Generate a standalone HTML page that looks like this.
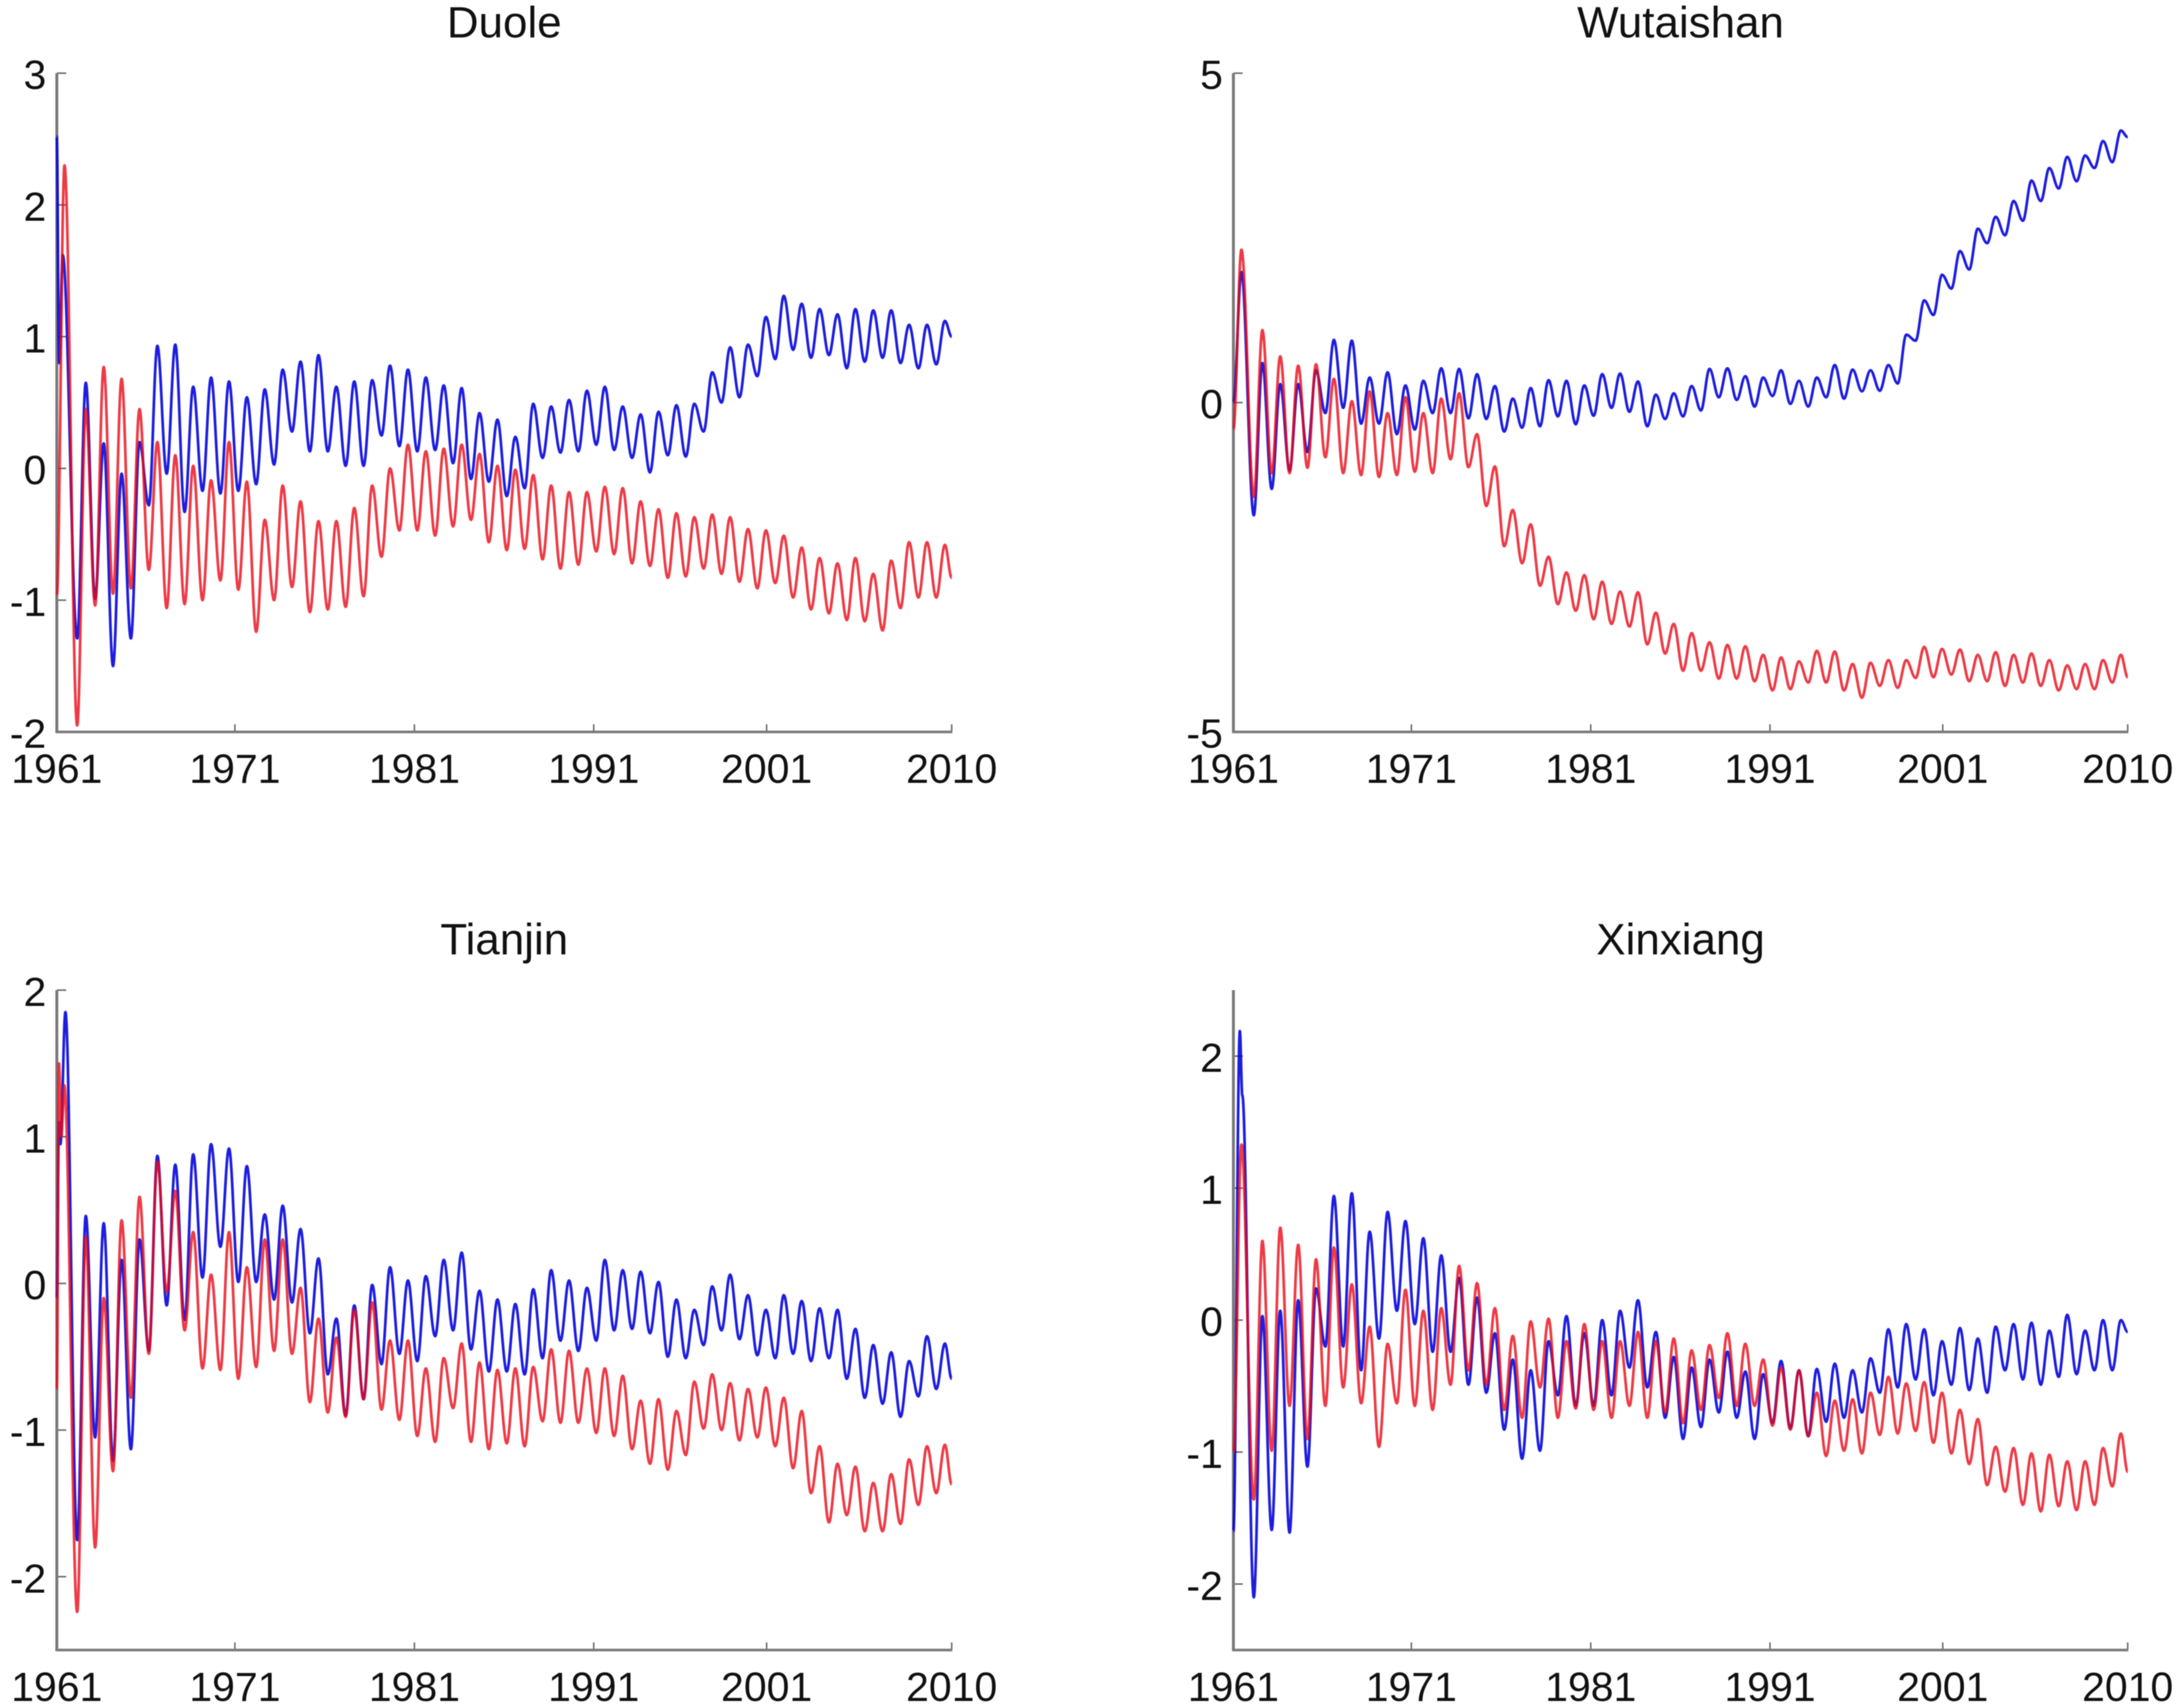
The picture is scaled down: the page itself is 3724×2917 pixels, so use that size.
<!DOCTYPE html>
<html lang="en">
<head>
<meta charset="utf-8">
<title>Duole, Wutaishan, Tianjin and Xinxiang series 1961-2010</title>
<style>
  html, body { margin: 0; padding: 0; background: #fff; }
  svg { display: block; filter: blur(0.9px); }
  text { font-family: "Liberation Sans", sans-serif; fill: #111; }
  .tick-label { font-size: 70px; }
  .panel-title { font-size: 75px; text-anchor: middle; }
</style>
</head>
<body>
<svg id="figure" xmlns="http://www.w3.org/2000/svg" width="3724" height="2917" viewBox="0 0 3724 2917"></svg>
<script>
/* Shared x axis: years elapsed since the start of 1961 */
const xTickLabels = ["1961", "1971", "1981", "1991", "2001", "2010"];
const xTickTimes = [0, 9.95, 19.98, 30, 39.66, 50];
const yearsShown = 50;
const troughPhase = 1.14;
const peakPhase = 1.62;

/* Duole */
const duoleYTicks = [3, 2, 1, 0, -1, -2];
const duoleBlueLeadTimes = [0, 0.13, 0.33];
const duoleBlueLeadValues = [2.52, 0.8, 1.62];
const duoleBluePeaks = [0.65,0.19,-0.04,0.2,0.93,0.94,0.62,0.69,0.66,0.54,0.6,0.75,0.81,0.86,0.62,0.66,0.67,0.78,0.75,0.69,0.63,0.61,0.42,0.37,0.24,0.49,0.47,0.52,0.59,0.62,0.47,0.41,0.43,0.48,0.49,0.73,0.92,0.94,1.15,1.31,1.25,1.21,1.17,1.21,1.2,1.2,1.09,1.09,1.12];
const duoleBlueTroughs = [-1.29,-0.99,-1.5,-1.29,-0.28,-0.04,-0.33,-0.17,-0.19,-0.17,-0.12,0.03,0.28,0.13,0.13,0.02,0.02,0.25,0.17,0.13,0.14,0.04,-0.08,-0.1,-0.21,-0.15,0.08,0.12,0.13,0.18,0.14,0.08,-0.03,0.1,0.09,0.28,0.5,0.54,0.7,0.83,0.9,0.84,0.86,0.76,0.81,0.84,0.8,0.76,0.79];
const duoleBlueEnd = 1.0;
const duoleRedLeadTimes = [0, 0.43];
const duoleRedLeadValues = [-0.96, 2.3];
const duoleRedPeaks = [0.45,0.77,0.68,0.45,0.2,0.1,0.02,-0.09,0.2,-0.1,-0.39,-0.13,-0.25,-0.4,-0.4,-0.3,-0.13,0,0.18,0.13,0.15,0.18,0.11,0.02,-0.01,-0.05,-0.13,-0.18,-0.18,-0.14,-0.15,-0.25,-0.31,-0.34,-0.37,-0.35,-0.37,-0.46,-0.47,-0.51,-0.6,-0.68,-0.72,-0.68,-0.8,-0.7,-0.56,-0.56,-0.58];
const duoleRedTroughs = [-1.95,-1.04,-0.95,-0.91,-0.77,-1.06,-1.03,-1.0,-0.85,-0.92,-1.24,-1.0,-0.9,-1.09,-1.07,-1.05,-0.97,-0.67,-0.47,-0.47,-0.51,-0.44,-0.39,-0.56,-0.62,-0.61,-0.69,-0.76,-0.73,-0.63,-0.65,-0.72,-0.74,-0.83,-0.82,-0.76,-0.8,-0.86,-0.91,-0.87,-0.98,-1.07,-1.1,-1.15,-1.16,-1.23,-1.06,-0.98,-0.98];
const duoleRedEnd = -0.83;

/* Wutaishan */
const wutaiYTicks = [5, 0, -5];
const wutaiBlueLeadTimes = [0, 0.45];
const wutaiBlueLeadValues = [0, 1.98];
const wutaiBluePeaks = [0.6,0.28,0.28,0.49,0.95,0.94,0.38,0.46,0.26,0.33,0.52,0.51,0.43,0.25,0.06,0.22,0.34,0.33,0.26,0.43,0.44,0.32,0.12,0.14,0.25,0.51,0.52,0.4,0.38,0.49,0.33,0.38,0.57,0.5,0.49,0.57,1.03,1.55,1.94,2.3,2.64,2.82,3.06,3.37,3.56,3.73,3.75,3.97,4.13];
const wutaiBlueTroughs = [-1.71,-1.31,-1.03,-0.75,-0.16,-0.08,-0.32,-0.32,-0.48,-0.41,-0.16,-0.16,-0.24,-0.25,-0.44,-0.38,-0.36,-0.21,-0.33,-0.2,-0.08,-0.14,-0.36,-0.25,-0.21,-0.12,0.08,0.04,-0.06,0.1,-0.02,-0.06,0.08,0.06,0.17,0.18,0.29,0.94,1.33,1.73,2.02,2.42,2.54,2.76,3.06,3.25,3.36,3.56,3.65];
const wutaiBlueEnd = 4.03;
const wutaiRedLeadTimes = [0, 0.45];
const wutaiRedLeadValues = [-0.4, 2.32];
const wutaiRedPeaks = [1.1,0.7,0.56,0.58,0.36,0.02,0.17,-0.16,0.08,-0.16,0.06,0.14,-0.48,-0.97,-1.63,-1.85,-2.34,-2.58,-2.62,-2.72,-2.87,-2.88,-3.19,-3.36,-3.5,-3.64,-3.68,-3.7,-3.83,-3.87,-3.93,-3.77,-3.78,-3.97,-3.95,-3.91,-3.91,-3.71,-3.74,-3.75,-3.83,-3.79,-3.83,-3.81,-3.91,-3.99,-3.97,-3.91,-3.83];
const wutaiRedTroughs = [-1.43,-1.07,-1.07,-0.99,-0.83,-1.07,-1.1,-1.13,-1.1,-1.05,-1.07,-0.86,-0.98,-1.57,-2.18,-2.44,-2.78,-3.06,-3.16,-3.29,-3.36,-3.4,-3.67,-3.81,-4.07,-4.07,-4.19,-4.19,-4.23,-4.37,-4.35,-4.25,-4.25,-4.37,-4.48,-4.3,-4.33,-4.18,-4.17,-4.13,-4.23,-4.23,-4.3,-4.25,-4.3,-4.37,-4.35,-4.35,-4.25];
const wutaiRedEnd = -4.17;

/* Tianjin */
const tianjinYTicks = [2, 1, 0, -1, -2];
const tianjinBlueLeadTimes = [0, 0.12, 0.2, 0.48];
const tianjinBlueLeadValues = [-0.1, 1.1, 0.95, 1.85];
const tianjinBluePeaks = [0.46,0.41,0.16,0.3,0.87,0.81,0.88,0.95,0.92,0.8,0.47,0.53,0.37,0.17,-0.24,-0.15,-0.01,0.11,0.02,0.05,0.16,0.21,-0.05,-0.11,-0.14,-0.04,0.09,0.02,-0.03,0.16,0.09,0.08,0.01,-0.11,-0.18,-0.02,0.06,-0.08,-0.18,-0.08,-0.12,-0.17,-0.18,-0.31,-0.42,-0.47,-0.53,-0.36,-0.41];
const tianjinBlueTroughs = [-1.75,-1.05,-1.21,-1.13,-0.46,-0.15,-0.25,0.04,0.25,0.01,0.01,-0.11,-0.13,-0.34,-0.62,-0.9,-0.79,-0.55,-0.48,-0.53,-0.36,-0.32,-0.45,-0.6,-0.6,-0.62,-0.51,-0.39,-0.46,-0.39,-0.32,-0.31,-0.34,-0.5,-0.51,-0.42,-0.32,-0.38,-0.49,-0.51,-0.48,-0.53,-0.51,-0.65,-0.78,-0.82,-0.91,-0.77,-0.72];
const tianjinBlueEnd = -0.65;
const tianjinRedLeadTimes = [0, 0.12, 0.25, 0.42];
const tianjinRedLeadValues = [-0.72, 1.5, 1.0, 1.35];
const tianjinRedPeaks = [0.32,-0.1,0.43,0.59,0.83,0.63,0.35,0.06,0.35,0.11,0.3,0.3,-0.03,-0.24,-0.37,-0.18,-0.13,-0.39,-0.39,-0.58,-0.51,-0.41,-0.54,-0.59,-0.58,-0.57,-0.45,-0.46,-0.58,-0.58,-0.63,-0.8,-0.79,-0.87,-0.67,-0.62,-0.68,-0.72,-0.71,-0.78,-0.87,-1.11,-1.23,-1.25,-1.36,-1.3,-1.2,-1.11,-1.1];
const tianjinRedTroughs = [-2.24,-1.8,-1.28,-0.78,-0.48,-0.06,-0.32,-0.58,-0.59,-0.65,-0.57,-0.46,-0.48,-0.81,-0.88,-0.91,-0.79,-0.86,-0.93,-1.04,-1.08,-0.85,-1.08,-1.13,-1.09,-1.11,-0.94,-0.95,-0.95,-1.02,-1.04,-1.13,-1.23,-1.27,-1.17,-0.99,-1.0,-1.07,-1.05,-1.11,-1.26,-1.43,-1.63,-1.58,-1.69,-1.69,-1.64,-1.51,-1.43];
const tianjinRedEnd = -1.37;

/* Xinxiang */
const xinxiangYTicks = [2, 1, 0, -1, -2];
const xinxiangBlueLeadTimes = [0, 0.36, 0.5];
const xinxiangBlueLeadValues = [-1.6, 2.19, 1.7];
const xinxiangBluePeaks = [0.03,0.07,0.15,0.24,0.94,0.96,0.67,0.82,0.75,0.62,0.49,0.32,0.17,-0.1,-0.3,-0.38,-0.16,0.03,-0.1,0,0.07,0.15,-0.09,-0.28,-0.36,-0.3,-0.24,-0.39,-0.41,-0.31,-0.38,-0.37,-0.33,-0.38,-0.29,-0.07,-0.03,-0.07,-0.16,-0.06,-0.14,-0.05,-0.03,-0.02,-0.08,0.04,-0.08,0,0];
const xinxiangBlueTroughs = [-2.1,-1.59,-1.61,-1.11,-0.2,-0.2,-0.38,-0.14,0.07,-0.03,-0.24,-0.24,-0.49,-0.55,-0.83,-1.05,-0.99,-0.57,-0.65,-0.65,-0.57,-0.36,-0.51,-0.74,-0.9,-0.81,-0.7,-0.74,-0.9,-0.78,-0.82,-0.88,-0.77,-0.74,-0.7,-0.55,-0.51,-0.45,-0.57,-0.49,-0.53,-0.55,-0.38,-0.45,-0.49,-0.43,-0.41,-0.38,-0.38];
const xinxiangBlueEnd = -0.09;
const xinxiangRedLeadTimes = [0, 0.45];
const xinxiangRedLeadValues = [-1.0, 1.33];
const xinxiangRedPeaks = [0.6,0.7,0.57,0.46,0.55,0.27,-0.05,-0.18,0.23,0.07,0.09,0.41,0.28,0.09,-0.12,-0.01,0.01,-0.16,-0.03,-0.16,-0.16,-0.09,-0.16,-0.14,-0.23,-0.19,-0.1,-0.18,-0.3,-0.36,-0.38,-0.55,-0.61,-0.6,-0.55,-0.43,-0.48,-0.47,-0.55,-0.68,-0.75,-0.96,-0.97,-1.01,-1.02,-1.07,-1.07,-0.97,-0.86];
const xinxiangRedTroughs = [-1.36,-0.99,-0.65,-0.9,-0.65,-0.51,-0.63,-0.96,-0.63,-0.65,-0.68,-0.49,-0.38,-0.49,-0.68,-0.74,-0.51,-0.74,-0.67,-0.68,-0.74,-0.65,-0.74,-0.7,-0.78,-0.68,-0.59,-0.65,-0.65,-0.8,-0.83,-0.88,-1.03,-0.99,-1.01,-0.87,-0.86,-0.84,-0.93,-1.01,-1.09,-1.25,-1.3,-1.4,-1.45,-1.41,-1.44,-1.4,-1.26];
const xinxiangRedEnd = -1.15;

const SVG_NS = "http://www.w3.org/2000/svg";
const figure = document.getElementById("figure");

function make(parent, tag, attrs) {
  const el = document.createElementNS(SVG_NS, tag);
  for (const key in attrs) el.setAttribute(key, attrs[key]);
  parent.appendChild(el);
  return el;
}

function seriesPath(xScale, yScale, leadTimes, leadValues, peaks, troughs, endValue) {
  const pts = [];
  leadTimes.forEach((t, i) => pts.push([xScale(t), yScale(leadValues[i])]));
  troughs.forEach((v, k) => {
    pts.push([xScale(k + troughPhase), yScale(v)]);
    pts.push([xScale(k + peakPhase), yScale(peaks[k])]);
  });
  pts.push([xScale(yearsShown), yScale(endValue)]);
  let d = "M" + pts[0][0].toFixed(1) + " " + pts[0][1].toFixed(1);
  for (let i = 1; i < pts.length; i++) {
    const a = pts[i - 1], b = pts[i], span = (b[0] - a[0]) * 0.36;
    d += "C" + (a[0] + span).toFixed(1) + " " + a[1].toFixed(1) + " " + (b[0] - span).toFixed(1) + " " + b[1].toFixed(1) + " " + b[0].toFixed(1) + " " + b[1].toFixed(1);
  }
  return d;
}

function drawPanel(cfg) {
  const w = cfg.right - cfg.left;
  const xScale = t => cfg.left + (t / yearsShown) * w;
  const yScale = v => cfg.bottom - ((v - cfg.yMin) / (cfg.yMax - cfg.yMin)) * (cfg.bottom - cfg.top);

  const g = make(figure, "g", {});
  
  

  const title = make(g, "text", { x: (cfg.left + cfg.right) / 2, y: cfg.top - 61, class: "panel-title" });
  title.textContent = cfg.title;
  
  

  cfg.yTicks.forEach(v => {
    const tick = make(g, "line", { x1: cfg.left, x2: cfg.left + 16, y1: yScale(v), y2: yScale(v), stroke: "#666", "stroke-width": 2.5 });
    
    
    const label = make(g, "text", { x: cfg.left - 18, y: yScale(v) + 27, "text-anchor": "end", class: "tick-label" });
    label.textContent = String(v);
    
    
  });

  xTickTimes.forEach((t, i) => {
    const tick = make(g, "line", { x1: xScale(t), x2: xScale(t), y1: cfg.bottom, y2: cfg.bottom - 13, stroke: "#666", "stroke-width": 2.5 });
    
    
    const label = make(g, "text", { x: xScale(t), y: cfg.bottom + 87, "text-anchor": "middle", class: "tick-label" });
    label.textContent = xTickLabels[i];
    
    
  });

  const yAxis = make(g, "line", { x1: cfg.left, x2: cfg.left, y1: cfg.top, y2: cfg.bottom + 2, stroke: "#7a7a7a", "stroke-width": 5 });
  
  

  const xAxis = make(g, "line", { x1: cfg.left, x2: cfg.right + 1, y1: cfg.bottom, y2: cfg.bottom, stroke: "#7a7a7a", "stroke-width": 4.5 });
  
  

  const blue = make(g, "path", { d: seriesPath(xScale, yScale, cfg.blueLeadTimes, cfg.blueLeadValues, cfg.bluePeaks, cfg.blueTroughs, cfg.blueEnd), fill: "none", stroke: "#0505dc", "stroke-opacity": 0.9, "stroke-width": 4.6, "stroke-linejoin": "round" });
  
  

  const red = make(g, "path", { d: seriesPath(xScale, yScale, cfg.redLeadTimes, cfg.redLeadValues, cfg.redPeaks, cfg.redTroughs, cfg.redEnd), fill: "none", stroke: "#e80a18", "stroke-opacity": 0.8, "stroke-width": 4.6, "stroke-linejoin": "round" });
  
  
}

drawPanel({
  title: "Duole", slug: "duole", left: 97, right: 1625, top: 125, bottom: 1250, yMin: -2, yMax: 3, yTicks: duoleYTicks,
  blueLeadTimes: duoleBlueLeadTimes, blueLeadValues: duoleBlueLeadValues, bluePeaks: duoleBluePeaks, blueTroughs: duoleBlueTroughs, blueEnd: duoleBlueEnd,
  redLeadTimes: duoleRedLeadTimes, redLeadValues: duoleRedLeadValues, redPeaks: duoleRedPeaks, redTroughs: duoleRedTroughs, redEnd: duoleRedEnd
});
drawPanel({
  title: "Wutaishan", slug: "wutaishan", left: 2106, right: 3633, top: 125, bottom: 1250, yMin: -5, yMax: 5, yTicks: wutaiYTicks,
  blueLeadTimes: wutaiBlueLeadTimes, blueLeadValues: wutaiBlueLeadValues, bluePeaks: wutaiBluePeaks, blueTroughs: wutaiBlueTroughs, blueEnd: wutaiBlueEnd,
  redLeadTimes: wutaiRedLeadTimes, redLeadValues: wutaiRedLeadValues, redPeaks: wutaiRedPeaks, redTroughs: wutaiRedTroughs, redEnd: wutaiRedEnd
});
drawPanel({
  title: "Tianjin", slug: "tianjin", left: 97, right: 1625, top: 1691, bottom: 2818, yMin: -2.5, yMax: 2, yTicks: tianjinYTicks,
  blueLeadTimes: tianjinBlueLeadTimes, blueLeadValues: tianjinBlueLeadValues, bluePeaks: tianjinBluePeaks, blueTroughs: tianjinBlueTroughs, blueEnd: tianjinBlueEnd,
  redLeadTimes: tianjinRedLeadTimes, redLeadValues: tianjinRedLeadValues, redPeaks: tianjinRedPeaks, redTroughs: tianjinRedTroughs, redEnd: tianjinRedEnd
});
drawPanel({
  title: "Xinxiang", slug: "xinxiang", left: 2106, right: 3633, top: 1691, bottom: 2818, yMin: -2.5, yMax: 2.5, yTicks: xinxiangYTicks,
  blueLeadTimes: xinxiangBlueLeadTimes, blueLeadValues: xinxiangBlueLeadValues, bluePeaks: xinxiangBluePeaks, blueTroughs: xinxiangBlueTroughs, blueEnd: xinxiangBlueEnd,
  redLeadTimes: xinxiangRedLeadTimes, redLeadValues: xinxiangRedLeadValues, redPeaks: xinxiangRedPeaks, redTroughs: xinxiangRedTroughs, redEnd: xinxiangRedEnd
});
</script>
</body>
</html>
